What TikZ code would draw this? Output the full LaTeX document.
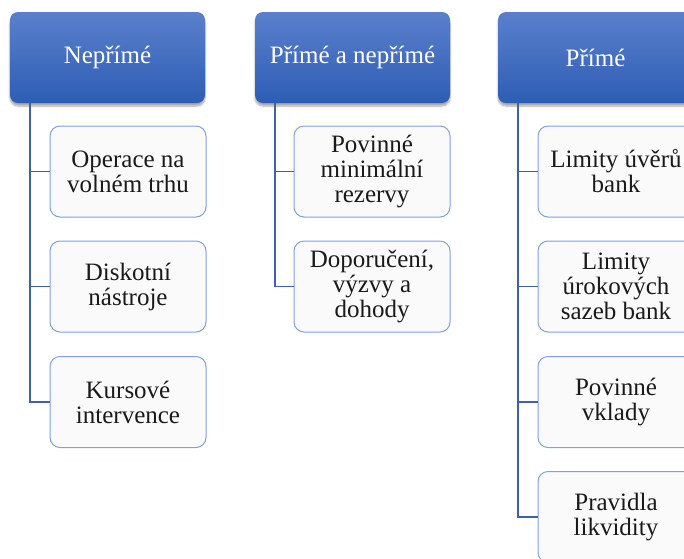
\documentclass[tikz,border=0pt]{standalone}
\usepackage{fontspec}
\setmainfont{Liberation Serif}
\usepackage[x11names]{xcolor}
\usetikzlibrary{shadows.blur}

\definecolor{hdrtop}{HTML}{5A80CC}
\definecolor{hdrbot}{HTML}{2E5DB5}
\definecolor{itemline}{HTML}{7FA1DC}
\definecolor{linkline}{HTML}{3C62AA}
\definecolor{itemtext}{HTML}{1A1A1A}

\begin{document}
\begin{tikzpicture}[x=1pt,y=-1pt,
        header/.style={rounded corners=8pt, top color=hdrtop, bottom color=hdrbot,
            text=white, minimum width=195pt, minimum height=91pt,
            font=\rmfamily\fontsize{25}{25}\selectfont,
            blur shadow={shadow xshift=0pt, shadow yshift=-3pt, shadow blur steps=6,
                shadow opacity=35}},
        item/.style={rounded corners=10pt, draw=itemline, line width=1pt,
            fill=white!98!black, text=itemtext, minimum width=156pt,
            minimum height=91pt, align=center,
            font=\rmfamily\fontsize{25}{25}\selectfont},
        link/.style={draw=linkline, line width=1.6pt}]
        \useasboundingbox (0,0) rectangle (684,558);
        \clip (0,0) rectangle (684,558);

        \node[header] (neprime) at (107.5,57.5) {Nepřímé}; \node[header]
        (obe) at (352.5,57.5) {Přímé a nepřímé}; \node[header] (prime) at
        (595.5,57.5) {Přímé};

        \node[item] (operace) at (128,171.5) {Operace na\\volném trhu};
        \node[item] (diskont) at (128,286.5) {Diskotní\\nástroje};
        \node[item] (kurs) at (128,402) {Kursové\\intervence};

        \node[item] (rezervy) at (372,171.5) {Povinné\\minimální\\rezervy};
        \node[item] (dohody) at (372,286.5) {Doporučení,\\výzvy a\\dohody};

        \node[item] (uvery) at (616,171.5) {Limity úvěrů\\bank};
        \node[item] (sazby) at (616,286.5) {Limity\\úrokových\\sazeb bank};
        \node[item] (vklady) at (616,402) {Povinné\\vklady};
        \node[item] (likvid) at (616,517) {Pravidla\\likvidity};

        \foreach \child in {operace,diskont,kurs}
            \draw[link] ([xshift=20pt]neprime.south west) |- (\child.west);
        \foreach \child in {rezervy,dohody}
            \draw[link] ([xshift=20pt]obe.south west) |- (\child.west);
        \foreach \child in {uvery,sazby,vklady,likvid}
            \draw[link] ([xshift=20pt]prime.south west) |- (\child.west);
    \end{tikzpicture}
\end{document}
